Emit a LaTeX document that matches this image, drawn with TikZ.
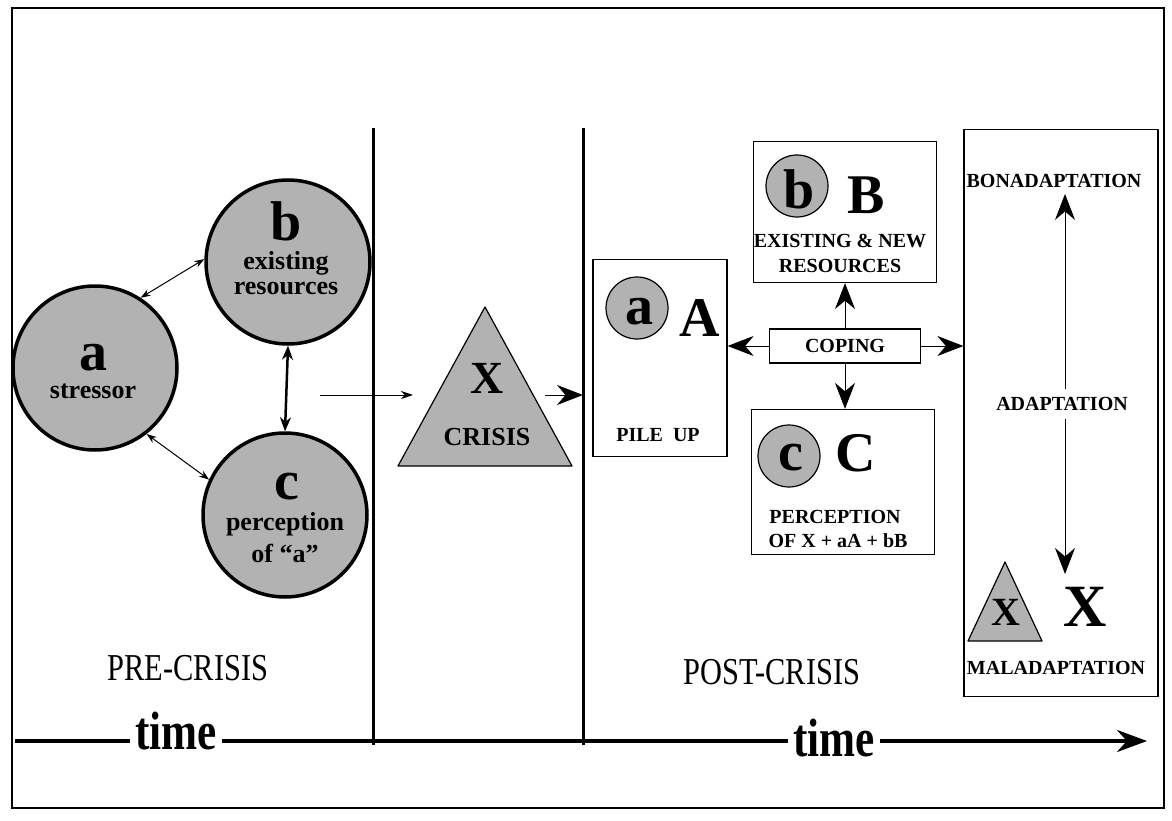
\documentclass[tikz,border=0pt]{standalone}
\usepackage{fontspec}
\setmainfont{Liberation Serif}
\newfontfamily\narrowfont[FakeStretch=0.8]{Liberation Serif}
\usetikzlibrary{shapes.geometric, arrows.meta}
\tikzstyle{bigcircle} = [circle, 
minimum size=164pt, 
draw=black, 
line width=3.5pt, 
fill=black!30]
\tikzstyle{smallcircle} = [circle, 
minimum size=62pt, 
draw=black, 
line width=1.2pt, 
fill=black!30]
\tikzstyle{panel} = [rectangle, 
draw=black, 
line width=1.2pt]
\tikzstyle{crisis} = [draw=black, line width=1.2pt, fill=black!30, line join=round]
\tikzstyle{letter} = [font=\bfseries\fontsize{56}{56}\selectfont, inner sep=0pt]
\tikzstyle{circletext} = [font=\bfseries\fontsize{26}{26}\selectfont, inner sep=0pt]
\tikzstyle{panellabel} = [font=\bfseries\fontsize{20}{20}\selectfont, inner sep=0pt]
\tikzstyle{phaselabel} = [font=\narrowfont\fontsize{38}{38}\selectfont, inner sep=0pt]
\tikzstyle{timelabel} = [font=\narrowfont\bfseries\fontsize{54}{54}\selectfont, 
fill=white, inner xsep=5pt, inner ysep=0pt]
\tikzstyle{thinarrow} = [<->, >={Stealth[length=10pt,width=7pt]}, line width=1pt]
\tikzstyle{midarrow} = [<->, >={Stealth[length=14pt,width=11pt]}, line width=2.5pt]
\tikzstyle{pointer} = [->, >={Stealth[length=12pt,width=8pt]}, line width=1pt]
\tikzstyle{arrow} = [->, >={Stealth[length=26pt,width=20pt]}, line width=1pt]
\tikzstyle{timeline} = [->, >={Stealth[length=30pt,width=22pt]}, line width=3.5pt]

\begin{document}
\begin{tikzpicture}[x=1pt, y=-1pt]
\useasboundingbox (0,0) rectangle (1172,821);

% frame, phases and time axis
\draw[line width=1.8pt] (12,8) rectangle (1164,808);
\draw[line width=3pt] (373,128) -- (373,745);
\draw[line width=3pt] (583,128) -- (583,745);
\coordinate (tstart) at (15,741);
\coordinate (tend) at (1147,741);
\draw[timeline] (tstart) -- (tend);
\node[timelabel] (time1) at (176,731) {time};
\node[timelabel] (time2) at (834,738) {time};
\node[phaselabel] (pre) at (188,668) {PRE-CRISIS};
\node[phaselabel] (post) at (772,672) {POST-CRISIS};

% pre-crisis
\node (a) [bigcircle] at (95,368) {};
\node (aletter) [letter] at (93,358) {a};
\node (atext) [circletext] at (93,391) {stressor};
\node (b) [bigcircle] at (288,262) {};
\node (bletter) [letter] at (286,221) {b};
\node (btext1) [circletext] at (286,263) {existing};
\node (btext2) [circletext] at (286,289) {resources};
\node (c) [bigcircle] at (285,515) {};
\node (cletter) [letter] at (287,487) {c};
\node (ctext1) [circletext] at (285,524) {perception};
\node (ctext2) [circletext] at (285,553) {of ``a''};

\draw [thinarrow] (a.57) -- (b.178);
\draw [thinarrow] (a.-52) -- (c.155);
\draw [midarrow] (b.south) -- (c.north);

% crisis
\coordinate (linkstart) at (320,395);
\coordinate (linkend) at (413,395);
\draw [pointer] (linkstart) -- (linkend);
\draw [crisis] (485,307) -- (398,466) -- (572,466) -- cycle;
\node (xletter) [letter, font=\bfseries\fontsize{46}{46}\selectfont] at (487,378) {X};
\node (crisislabel) [circletext] at (487,437) {CRISIS};
\coordinate (crisisout) at (545,395);
\coordinate (crisisin) at (583,395);
\draw [arrow] (crisisout) -- (crisisin);

% post-crisis
\node (pile) [panel, minimum width=134pt, minimum height=197pt] at (660,358) {};
\node (pa) [smallcircle] at (637,308) {};
\node (paletter) [letter] at (639,312) {a};
\node (pA) [letter] at (700,318) {A};
\node (piletext) [panellabel] at (658,435) {PILE\ \ UP};

\node (bbox) [panel, minimum width=183pt, minimum height=141pt] at (845,212) {};
\node (pb) [smallcircle] at (797,186) {};
\node (pbletter) [letter] at (799,189) {b};
\node (pB) [letter] at (866,195) {B};
\node (btextA) [panellabel] at (840,241) {EXISTING \& NEW};
\node (btextB) [panellabel] at (840,266) {RESOURCES};

\node (coping) [panel, panellabel, minimum width=151pt, minimum height=34pt] at (845,346) {COPING};

\node (cbox) [panel, minimum width=183pt, minimum height=145pt] at (843,482) {};
\node (pc) [smallcircle] at (789,456) {};
\node (pcletter) [letter] at (791,458) {c};
\node (pC) [letter] at (856,453) {C};
\node (ctextA) [panellabel] at (835,517) {PERCEPTION};
\node (ctextB) [panellabel] at (838,541) {OF X + aA + bB};

\node (adapt) [panel, minimum width=194pt, minimum height=567pt] at (1061,413) {};
\node (bon) [panellabel] at (1054,181) {BONADAPTATION};
\node (adaptation) [panellabel] at (1062,404) {ADAPTATION};
\node (mal) [panellabel] at (1056,668) {MALADAPTATION};
\coordinate (maltip) at (1065,574);
\draw [crisis] (1005,562) -- (968,641) -- (1042,641) -- cycle;
\node (mx) [letter, font=\bfseries\fontsize{40}{40}\selectfont] at (1006,612) {X};
\node (mX) [letter, font=\bfseries\fontsize{60}{60}\selectfont] at (1085,607) {X};

\draw [arrow] (coping.north) -- (coping.north |- bbox.south);
\draw [arrow] (coping.south) -- (coping.south |- cbox.north);
\draw [arrow] (coping.west) -- (coping.west -| pile.east);
\draw [arrow] (coping.east) -- (coping.east -| adapt.west);
\draw [arrow] ([yshift=8pt]adaptation.north -| maltip) -- ([yshift=-6pt]bon.south -| maltip);
\draw [arrow] ([yshift=-8pt]adaptation.south -| maltip) -- (maltip);

\end{tikzpicture}
\end{document}
